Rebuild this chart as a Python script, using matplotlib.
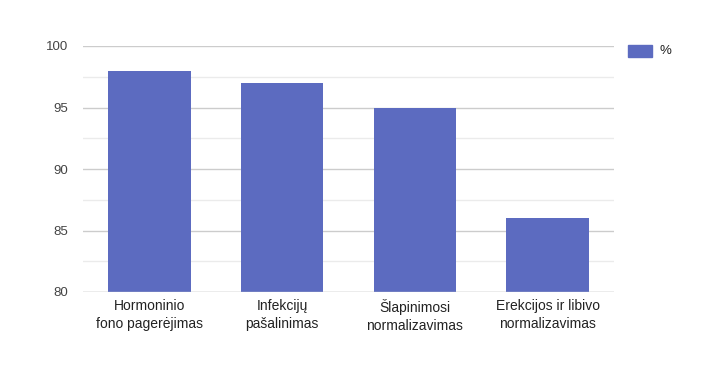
import matplotlib
matplotlib.use("Agg")
import matplotlib.pyplot as plt
from matplotlib.patches import Rectangle

categories = ["Hormoninio\nfono pagerėjimas", "Infekcijų\npašalinimas",
              "Šlapinimosi\nnormalizavimas", "Erekcijos ir libivo\nnormalizavimas"]
values = [98, 97, 95, 86]
series_name = "%"
yticks = [80, 85, 90, 95, 100]
minor_ticks = [82.5, 87.5, 92.5, 97.5]

plt.rcParams['font.family'] = ['Liberation Sans', 'DejaVu Sans']
color = "#5c6bc0"

fig = plt.figure(figsize=(7.11, 3.68), dpi=100)
ax = fig.add_axes([83/711, 1-292/368, 531/711, 246/368])
x = list(range(len(categories)))
ax.bar(x, values, width=0.62, color=color, zorder=3, bottom=0)
ax.set_xlim(-0.5, len(categories)-0.5)
ax.set_ylim(80, 100)
ax.set_yticks(yticks)
ax.set_yticks(minor_ticks, minor=True)
ax.set_yticklabels([str(t) for t in yticks])
ax.set_xticks(x)
ax.set_xticklabels(categories, linespacing=1.4)
ax.grid(axis='y', which='major', color='#cccccc', linewidth=1, zorder=0)
ax.grid(axis='y', which='minor', color='#ebebeb', linewidth=1, zorder=0)
for s in ax.spines.values():
    s.set_visible(False)
ax.tick_params(axis='both', which='both', length=0)
ax.tick_params(axis='y', labelsize=9.5, labelcolor='#444444', pad=11)
ax.tick_params(axis='x', labelsize=10, labelcolor='#222222', pad=5)
ax.axhline(80, color='#cccccc', linewidth=1, zorder=4)

# legend
fig.patches.append(Rectangle((628/711, 1-57/368), 24/711, 12/368, transform=fig.transFigure,
                             color=color, figure=fig))
fig.text(660/711, 1-51/368, series_name, fontsize=9.5, color='#222222', va='center', ha='left')

fig.savefig("out.png", dpi=100)
